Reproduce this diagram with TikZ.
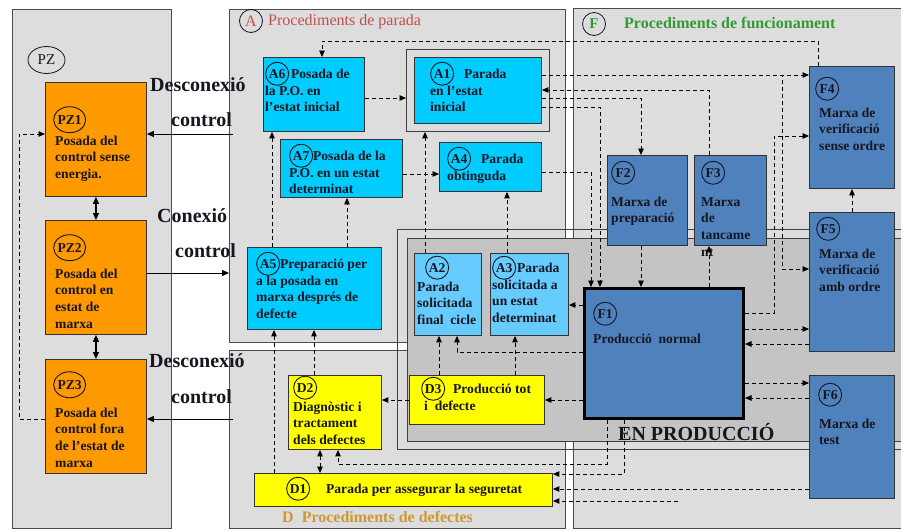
\documentclass[tikz,border=0pt]{standalone}
\usepackage{fontspec}
\setmainfont{Liberation Serif}
\usetikzlibrary{arrows.meta,shapes.geometric}
\definecolor{pgrey}{HTML}{DDDDDD}
\definecolor{dgrey}{HTML}{C4C4C4}
\definecolor{orng}{HTML}{FF9900}
\definecolor{cyanA}{HTML}{00CCFF}
\definecolor{cyanB}{HTML}{66CCFF}
\definecolor{blueF}{HTML}{4F81BD}
\definecolor{yel}{HTML}{FFFF00}
\definecolor{redt}{HTML}{C0504D}
\definecolor{greent}{HTML}{339933}
\definecolor{goldt}{HTML}{CC9933}
\definecolor{txtc}{HTML}{161620}
\tikzset{
 panel/.style={draw=black!70,fill=pgrey,line width=0.9pt},
 frame/.style={draw=black!75,line width=0.9pt},
 boxo/.style={draw=black!80,fill=orng,line width=0.9pt},
 boxa/.style={draw=black!80,fill=cyanA,line width=0.9pt},
 boxb/.style={draw=black!80,fill=cyanB,line width=0.9pt},
 boxf/.style={draw=black!80,fill=blueF,line width=0.9pt},
 boxy/.style={draw=black!80,fill=yel,line width=0.9pt},
 btext/.style={inner sep=0pt,align=left,anchor=north west,text=txtc,font=\fontsize{13.6}{16.8}\selectfont\bfseries},
 dar/.style={line width=0.9pt,dash pattern=on 4pt off 3pt,-{Triangle[length=6.5pt,width=5.5pt]}},
 ddar/.style={line width=0.9pt,dash pattern=on 4pt off 3pt,{Triangle[length=6.5pt,width=5.5pt]}-{Triangle[length=6.5pt,width=5.5pt]}},
 sar/.style={line width=1pt,-{Triangle[length=7pt,width=6pt]}},
 dsar/.style={line width=1.2pt,{Triangle[length=7pt,width=6pt]}-{Triangle[length=7pt,width=6pt]}},
 big/.style={font=\fontsize{20}{24}\selectfont\bfseries,inner sep=0pt,anchor=base west,text=txtc},
 sect/.style={anchor=base west,inner sep=0pt,font=\fontsize{16}{18}\selectfont},
}
\newcommand\bx[6]{\node[#2,anchor=north west,inner sep=0pt,minimum width={#5-#3},minimum height={#6-#4}] (#1) at (#3,#4) {};}
\newcommand\tx[4]{\node[btext] (#1) at (#2,#3-11) {\rule{0pt}{11pt}#4};}
\newcommand\cir[1]{\smash{\tikz[baseline=(cc.base)]\node[draw=txtc,circle,inner sep=0pt,minimum size=23pt,line width=0.9pt,text=txtc](cc){#1};}}
\newcommand\cirE[1]{\smash{\tikz[baseline=(cc.base)]\node[draw=txtc,ellipse,inner sep=0pt,minimum width=32pt,minimum height=26pt,line width=0.9pt,text=txtc](cc){\makebox[0pt]{#1}};}}
\begin{document}
\begin{tikzpicture}[x=1pt,y=-1pt]
\useasboundingbox (0,0) rectangle (901,530);
\clip (0,0) rectangle (901,530);
% panels
\path[panel] (12,9) rectangle (171,528);
\path[panel] (229,9) rectangle (565,342);
\path[panel] (229,350) rectangle (565,528);
\path[panel] (573,8) rectangle (910,528);
\path[frame] (397,229) rectangle (910,449);
\path[frame,fill=dgrey] (407,238) rectangle (910,441);
% section labels
\node[ellipse,draw=txtc,line width=0.8pt,minimum width=37pt,minimum height=27pt,inner sep=0pt,font=\fontsize{15}{18}\selectfont,text=txtc] (cPZ) at (46.5,60) {PZ};
\node[circle,draw=txtc,line width=0.8pt,minimum size=23pt,inner sep=0pt,text=redt,font=\fontsize{16}{18}\selectfont] (cA) at (251,21) {A};
\node[sect,text=redt] (lA) at (268,25) {Procediments de parada};
\node[circle,draw=txtc,line width=0.8pt,minimum size=23pt,inner sep=0pt,text=greent,font=\fontsize{15}{18}\selectfont\bfseries] (cF) at (594,24) {F};
\node[sect,text=greent,font=\fontsize{16}{18}\selectfont\bfseries] (lF) at (624,28) {Procediments de funcionament};
\node[sect,text=goldt,font=\fontsize{16}{18}\selectfont\bfseries] (lD) at (282,522) {D\ \ Procediments de defectes};
% big labels
\node[big] (lDes1) at (150,91) {Desconexió};
\node[big] (lCtl1) at (171,126) {control};
\node[big] (lCon) at (157,222) {Conexió};
\node[big] (lCtl2) at (175,257) {control};
\node[big] (lDes2) at (149,367) {Desconexió};
\node[big] (lCtl3) at (171,403) {control};
% boxes
\bx{PZ1}{boxo}{45}{82}{146}{196}
\bx{PZ2}{boxo}{45}{220}{146}{334}
\bx{PZ3}{boxo}{45}{359}{146}{473}
\bx{A6}{boxa}{263}{57}{364}{131}
\bx{A1f}{frame}{406}{49}{549}{131}
\bx{A1}{boxa}{414}{57}{541}{123}
\bx{A7}{boxa}{280}{139}{402}{197}
\bx{A4}{boxa}{439}{142}{541}{191}
\bx{A5}{boxa}{247}{247}{381}{329}
\bx{A2}{boxb}{414}{253}{481}{335}
\bx{A3}{boxb}{490}{253}{568}{335}
\bx{F1}{boxf,line width=3pt,draw=black}{583}{287}{742}{417}
\bx{F2}{boxf}{607}{155}{687}{245}
\bx{F3}{boxf}{694}{155}{766}{245}
\bx{F4}{boxf}{809}{66}{894}{188}
\bx{F5}{boxf}{809}{212}{894}{351}
\bx{F6}{boxf}{809}{375}{894}{498}
\bx{D2}{boxy}{288}{375}{381}{449}
\bx{D3}{boxy}{409}{375}{544}{424}
\bx{D1}{boxy}{254}{473}{552}{506}
% texts
\tx{tPZ1}{55}{124}{\hspace{-2pt}\cirE{PZ1}\\[4pt]Posada del\\control sense\\energia.}
\tx{tPZ2}{55}{252}{\hspace{-2pt}\cirE{PZ2}\\[9pt]Posada del\\control en\\estat de\\marxa}
\tx{tPZ3}{55}{389}{\hspace{-2pt}\cirE{PZ3}\\[11pt]Posada del\\control fora\\de l’estat de\\marxa}
\tx{tA6}{265}{78}{\cir{A6}\hspace{2pt}Posada de\\la P.O. en\\l’estat inicial}
\tx{tA1}{430}{78}{\cir{A1}\hspace{10pt}Parada\\en l’estat\\inicial}
\tx{tA7}{289}{160}{\cir{A7}\hspace{0pt}Posada de la\\P.O. en un estat\\determinat}
\tx{tA4}{447}{163}{\cir{A4}\hspace{10pt}Parada\\obtinguda}
\tx{tA5}{256}{268}{\cir{A5}\hspace{0pt}Preparació per\\a la posada en\\marxa després de\\defecte}
\tx{tA2}{417}{272}{\hspace{8pt}\cir{A2}\\[2pt]Parada\\solicitada\\final\ \ cicle}
\tx{tA3}{492}{272}{\cir{A3}\hspace{1pt}Parada\\solicitada a\\un estat\\determinat}
\tx{tF1}{593}{318}{\cir{F1}\\[8pt]Producció\ \ normal}
\tx{tF2}{611}{177}{\cir{F2}\\[12pt]Marxa de\\preparació}
\tx{tF3}{701}{177}{\cir{F3}\\[12pt]Marxa\\de\\tancame\\nt}
\tx{tF4}{819}{93}{\hspace{-4pt}\cir{F4}\\[7pt]Marxa de\\verificació\\sense ordre}
\tx{tF5}{819}{233}{\hspace{-3pt}\cir{F5}\\[8pt]Marxa de\\verificació\\amb ordre}
\tx{tF6}{819}{399}{\hspace{-1pt}\cir{F6}\\[12pt]Marxa de\\test}
\tx{tD2}{293}{392}{\cir{D2}\\[2pt]Diagnòstic i\\tractament\\dels defectes}
\tx{tD3}{421}{393}{\cir{D3}\hspace{8pt}Producció tot\\\hspace{3pt}i\ \ defecte}
\tx{tD1}{286}{493}{\cir{D1}\hspace{16pt}Parada per assegurar la seguretat}
\node[big] (lEN) at (618,440) {EN PRODUCCIÓ};
% solid connectors
\coordinate (s1) at (233,134);
\coordinate (s2) at (229,273);
\coordinate (s3) at (233,419);
\draw[sar] (s1) -- (PZ1.east |- s1);
\draw[sar] (PZ2.east |- s2) -- (s2);
\draw[sar] (s3) -- (PZ3.east |- s3);
\draw[dsar] (PZ1.south) -- (PZ2.north);
\draw[dsar] (PZ2.south) -- (PZ3.north);
\draw[dar] (PZ3.west |- s3) -| (19,134) -- (PZ1.west |- s1);
% dashed connectors
\draw[dar] (F4.north -| 818,0) |- (322,41) -- (A6.north -| 322,0);
\draw[dar] (A1.east |- 0,75) -- (F4.west |- 0,75);
\draw[dar] (A1.east |- 0,75) -| (782,269) -- (F5.west |- 0,269);
\draw[dar] (F3.north -| 709,0) |- (A1.east |- 0,90);
\draw[dar] (A1.east |- 0,98) -| (F2.north -| 641,0);
\draw[dar] (A1.east |- 0,107) -| (F1.north -| 600,0);
\draw[dar] (A4.east |- 0,172) -| (F1.north -| 591,0);
\draw[dar] (F2.south -| 641,0) -- (F1.north -| 641,0);
\draw[dar] (F1.north -| 709,0) -- (F3.south -| 709,0);
\draw[dar] (F5.north -| 852,0) -- (F4.south -| 852,0);
\draw[dar] (F1.east |- 0,313) -| (774,136) -- (F4.west |- 0,136);
\draw[dar] (F1.east |- 0,329) -- (F5.west |- 0,329);
\draw[dar] (F5.west |- 0,344) -- (F1.east |- 0,344);
\draw[dar] (F1.east |- 0,383) -- (F6.west |- 0,383);
\draw[dar] (F6.west |- 0,398) -- (F1.east |- 0,398);
\draw[dar] (F1.west |- 0,305) -- (A3.east |- 0,305);
\draw[dar] (F1.west |- 0,352) -| (A2.south -| 457,0);
\draw[dar] (D3.north -| 439,0) -- (A2.south -| 439,0);
\draw[dar] (D3.north -| 515,0) -- (A3.south -| 515,0);
\draw[dar] (F1.west |- 0,400) -- (D3.east |- 0,400);
\draw[dar] (D3.west |- 0,400) -- (D2.east |- 0,400);
\draw[dar] (D2.north -| 314,0) -- (A5.south -| 314,0);
\draw[dar] (D1.north -| 274,0) -- (A5.south -| 274,0);
\draw[dar] (A5.north -| 272,0) -- (A6.south -| 272,0);
\draw[dar] (A5.north -| 347,0) -- (A7.south -| 347,0);
\draw[dar] (A7.east |- 0,174) -- (A4.west |- 0,174);
\draw[dar] (A6.east |- 0,98) -- (A1f.west |- 0,98);
\draw[dar] (A2.north -| 425,0) -- (A1f.south -| 425,0);
\draw[dar] (A3.north -| 507,0) -- (A4.south -| 507,0);
\draw[ddar] (D2.south -| 320,0) -- (D1.north -| 320,0);
\draw[dar] (F1.south -| 607,0) |- (338,464) -- (D2.south -| 338,0);
\draw[dar] (F1.south -| 624,0) |- (D1.east |- 0,474);
\draw[dar] (F6.west |- 0,489) -- (D1.east |- 0,489);
\coordinate (free) at (678,501);
\draw[dar] (free) -- (D1.east |- free);
\end{tikzpicture}
\end{document}
